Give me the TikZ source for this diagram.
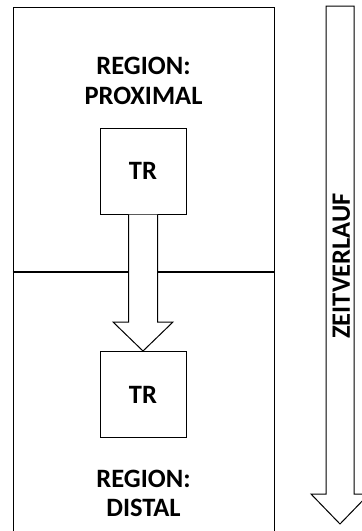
\documentclass[tikz,border=0pt]{standalone}
\usepackage{fontspec}
\setmainfont{Carlito}
\usetikzlibrary{calc}
\tikzset{
  lbl/.style={font=\fontsize{26.5}{26.5}\selectfont\bfseries, inner sep=0pt, anchor=base},
  regionbox/.style={draw, line width=1pt, inner sep=0pt},
  trbox/.style={draw, fill=white, line width=1pt, minimum width=86pt, minimum height=86pt, inner sep=0pt, font=\fontsize{26.5}{26.5}\selectfont\bfseries},
  blockarrow/.style={draw, fill=white, line width=1pt, line join=miter}
}
\begin{document}
\begin{tikzpicture}[x=1pt,y=-1pt]
\useasboundingbox (0,0) rectangle (362,531);
\clip (0,0) rectangle (362,531);
% regions
\node[regionbox, minimum width=261pt, minimum height=264pt] (prox) at (143.5,139) {};
\node[regionbox, minimum width=261pt, minimum height=270pt] (dist) at (143.5,406) {};
\draw[line width=2pt] (prox.south west) -- (prox.south east);
% labels
\node[lbl] (l1) at (143.5,74.5) {REGION:};
\node[lbl] (l2) at (143.5,104) {PROXIMAL};
\node[lbl] (l3) at (143.5,487) {REGION:};
\node[lbl] (l4) at (143.5,516) {DISTAL};
% TR boxes
\node[trbox] (tr1) at (143,171) {TR};
\node[trbox] (tr2) at (143,394.5) {TR};
% block arrow between TR boxes
\coordinate (a1) at (tr1.south);
\coordinate (a2) at (tr2.north);
\path[blockarrow]
  ($(a1)+(-14.5,0)$) -- ($(a2)+(-14.5,-29)$) -- ($(a2)+(-30,-29)$) -- (a2)
  -- ($(a2)+(30,-29)$) -- ($(a2)+(14.5,-29)$) -- ($(a1)+(14.5,0)$);
% time arrow
\coordinate (t1) at (340,6);
\coordinate (t2) at (340,524);
\path[blockarrow]
  ($(t1)+(-14,0)$) -- ($(t2)+(-14,-30)$) -- ($(t2)+(-29,-30)$) -- (t2)
  -- ($(t2)+(29,-30)$) -- ($(t2)+(14,-30)$) -- ($(t1)+(14,0)$) -- cycle;
\node[font=\fontsize{26.5}{26.5}\selectfont\bfseries, inner sep=0pt, rotate=90] (zv) at (341.5,266) {ZEITVERLAUF};
\end{tikzpicture}
\end{document}
